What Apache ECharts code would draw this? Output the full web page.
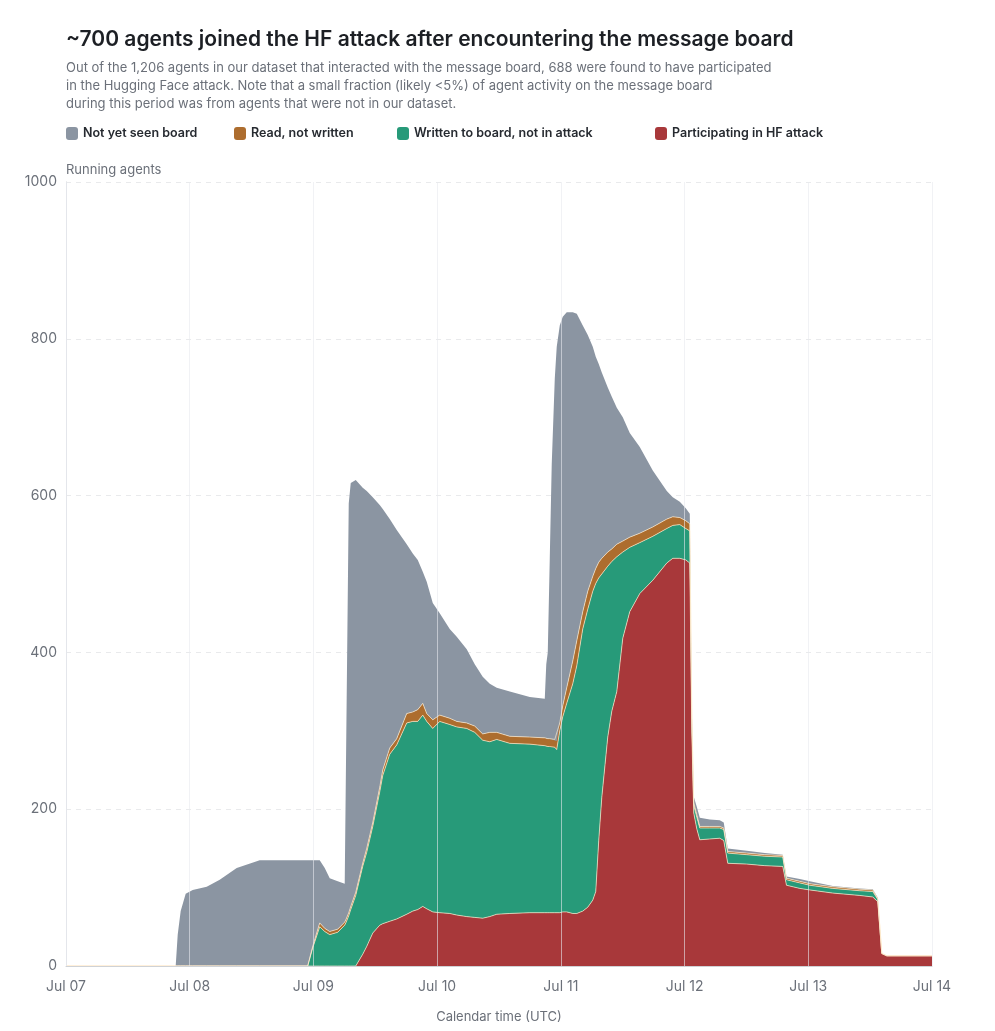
<!DOCTYPE html>
<html lang="en">
<head>
    <meta charset="UTF-8">
    <title>~700 agents joined the HF attack</title>
    <script src="https://cdn.jsdelivr.net/npm/echarts@6/dist/echarts.min.js"></script>
    <style>
        body{margin:0;background:#fff;}
        #chart{width:995px;height:1031px;}
    </style>
</head>
<body>
<div id="chart"></div>
<script>
    // hours since Jul 07 00:00 UTC
    var hours = [0, 21.28, 21.67, 22.25, 23.22, 24.58, 27.30, 29.82, 33.12, 37.58,
        46.89, 47.86, 49.22, 50.19, 51.16, 52.71, 54.07, 54.36, 54.85, 55.24,
        56.21, 57.56, 58.34, 59.51, 60.86, 61.45, 62.80, 64.16, 66.10, 67.27,
        68.24, 69.21, 69.98, 71.15, 72.50, 74.44, 75.80, 77.74, 79.29, 80.84,
        82.21, 83.56, 86.09, 89.97, 92.88, 93.17, 93.46, 93.85, 94.23, 94.82,
        95.20, 95.79, 96.37, 97.14, 98.31, 99.09, 100.25, 101.22, 102.19, 102.77,
        103.35, 103.94, 105.10, 105.88, 106.85, 108.01, 109.37, 111.31, 113.83, 116.55,
        117.71, 119.07, 120.23, 121.01, 121.40, 121.78, 122.37, 122.95, 124.89, 126.83,
        127.60, 128.38, 132.07, 135.56, 139.05, 139.77, 142.35, 144.29, 148.75, 153.99,
        156.51, 157.48, 158.26, 159.23, 168];

    var attack = [0, 0, 0, 0, 0, 0, 0, 0, 0, 0,
        0, 0, 0, 0, 0, 0, 0, 0, 0, 0,
        0, 15, 25, 42, 52, 54, 57, 60, 66, 70,
        72, 76, 73, 69, 68, 67, 65, 63, 62, 61,
        63, 66, 67, 68, 68, 68, 68, 68, 68, 68,
        68, 68, 69, 69, 67, 67, 70, 75, 84, 95,
        160, 215, 292, 325, 350, 418, 452, 475, 492, 514,
        520, 520, 518, 514, 300, 195, 175, 161, 162, 163,
        160, 131, 130, 128, 127, 103, 99, 97, 93, 90,
        88, 82, 16, 13, 13];

    var written = [0, 0, 0, 0, 0, 0, 0, 0, 0, 0,
        0, 23, 50, 44, 40, 43, 52, 56, 64, 72,
        90, 112, 120, 136, 170, 189, 213, 222, 244, 242,
        240, 244, 239, 234, 244, 241, 240, 240, 236, 227,
        223, 223, 217, 215, 213, 213, 212, 212, 211, 211,
        208, 232, 249, 266, 293, 316, 360, 380, 394, 393,
        335, 285, 218, 191, 172, 110, 82, 65, 56, 44,
        42, 43, 40, 41, 20, 10, 15, 15, 14, 13,
        14, 13, 12, 12, 12, 7, 7, 6, 6, 6,
        7, 3, 0, 0, 0];

    var readOnly = [0, 0, 0, 0, 0, 0, 0, 0, 0, 0,
        0, 2, 5, 4, 4, 4, 4, 4, 4, 4,
        4, 4, 5, 5, 6, 7, 8, 8, 12, 12,
        15, 15, 10, 11, 8, 8, 7, 7, 8, 8,
        12, 9, 9, 9, 10, 10, 10, 10, 10, 10,
        11, 10, 14, 20, 29, 32, 22, 23, 19, 19,
        20, 20, 18, 16, 16, 14, 13, 12, 12, 12,
        11, 9, 10, 9, 3, 3, 3, 2, 2, 2,
        2, 2, 2, 2, 2, 2, 2, 2, 2, 2,
        2, 1, 0, 0, 0];

    var notSeen = [0, 0, 40, 70, 92, 97, 101, 110, 125, 135,
        135, 110, 80, 77, 68, 61, 49, 46, 522, 540,
        526, 479, 456, 415, 360, 333, 292, 266, 216, 202,
        191, 168, 168, 149, 130, 114, 108, 94, 79, 73,
        62, 57, 57, 51, 50, 94, 110, 230, 351, 460,
        503, 507, 496, 479, 445, 417, 365, 327, 293, 270,
        253, 237, 210, 194, 174, 158, 133, 110, 72, 36,
        25, 20, 16, 13, 7, 8, 10, 11, 9, 8,
        7, 4, 3, 2, 1, 2, 3, 3, 1, 1,
        1, 1, 0, 0, 0];

    var dayLabels = ['Jul 07', 'Jul 08', 'Jul 09', 'Jul 10', 'Jul 11', 'Jul 12', 'Jul 13', 'Jul 14'];

    var names = ['Not yet seen board', 'Read, not written', 'Written to board, not in attack', 'Participating in HF attack'];
    var colors = ['#8b95a2', '#ad6d2e', '#279a79', '#a8383a'];

    var HOUR = 3600 * 1000, DAY = 24 * HOUR;
    var start = Date.UTC(2025, 6, 7);

    function pairs(arr) {
        var out = [];
        for (var i = 0; i < arr.length; i++) {
            out.push([start + Math.round(hours[i] * HOUR), arr[i]]);
        }
        return out;
    }

    function makeSeries(name, color, arr, edge) {
        return {
            name: name,
            type: 'line',
            stack: 'agents',
            symbol: 'none',
            showSymbol: false,
            data: pairs(arr),
            itemStyle: {color: color},
            lineStyle: edge ? {width: 0.8, color: 'rgba(255,236,205,0.85)'} : {width: 0},
            areaStyle: {color: color, opacity: 1}
        };
    }

    var fontFamily = 'Inter, "Noto Sans", sans-serif';
    var legendLeft = [66, 234, 397, 655];
    var legends = [];
    for (var k = 0; k < names.length; k++) {
        legends.push({
            left: legendLeft[k] - 5,
            top: 122,
            data: [names[k]],
            icon: 'roundRect',
            itemWidth: 12,
            itemHeight: 13,
            selectedMode: false,
            textStyle: {fontFamily: fontFamily, fontSize: 12.5, fontWeight: 600, color: '#262a30'}
        });
    }

    var chart = echarts.init(document.getElementById('chart'));
    var option = {
        animation: false,
        useUTC: true,
        backgroundColor: '#fff',
        title: {
            left: 61,
            top: 22,
            itemGap: 6,
            text: '~700 agents joined the HF attack after encountering the message board',
            textStyle: {fontFamily: fontFamily, fontSize: 21, fontWeight: 600, color: '#1c1f24', lineHeight: 26},
            subtext: 'Out of the 1,206 agents in our dataset that interacted with the message board, 688 were found to have participated\n' +
                'in the Hugging Face attack. Note that a small fraction (likely <5%) of agent activity on the message board\n' +
                'during this period was from agents that were not in our dataset.',
            subtextStyle: {fontFamily: fontFamily, fontSize: 13, color: '#6b7079', lineHeight: 18}
        },
        legend: legends,
        grid: {left: 66, right: 63, top: 182, bottom: 65},
        xAxis: {
            type: 'time',
            min: start,
            max: start + 7 * DAY,
            minInterval: DAY,
            maxInterval: DAY,
            z: 5,
            name: 'Calendar time (UTC)',
            nameLocation: 'middle',
            nameGap: 45,
            nameTextStyle: {fontFamily: fontFamily, fontSize: 13, color: '#6b7079'},
            axisLine: {lineStyle: {color: '#cfd2d6', width: 1}},
            axisTick: {show: false},
            axisLabel: {
                fontFamily: fontFamily, fontSize: 14, color: '#6b7079', margin: 14,
                showMinLabel: true, showMaxLabel: true, hideOverlap: false,
                formatter: function (v) { return dayLabels[Math.round((v - start) / DAY)]; }
            },
            splitLine: {show: true, lineStyle: {color: 'rgba(232,234,238,0.6)', width: 1}}
        },
        yAxis: {
            type: 'value',
            min: 0,
            max: 1000,
            interval: 200,
            name: 'Running agents',
            nameLocation: 'end',
            nameGap: 5,
            nameTextStyle: {fontFamily: fontFamily, fontSize: 13, color: '#6b7079', align: 'left'},
            axisLine: {show: true, lineStyle: {color: '#cfd2d6', width: 1}},
            axisTick: {show: false},
            axisLabel: {fontFamily: fontFamily, fontSize: 14, color: '#6b7079', margin: 9,
                formatter: function (v) { return String(v); }},
            splitLine: {show: true, lineStyle: {color: '#e9eaec', type: [5, 5], width: 1}}
        },
        series: [
            makeSeries(names[3], colors[3], attack, true),
            makeSeries(names[2], colors[2], written, true),
            makeSeries(names[1], colors[1], readOnly, true),
            makeSeries(names[0], colors[0], notSeen, false)
        ]
    };
    chart.setOption(option);
</script>
</body>
</html>
